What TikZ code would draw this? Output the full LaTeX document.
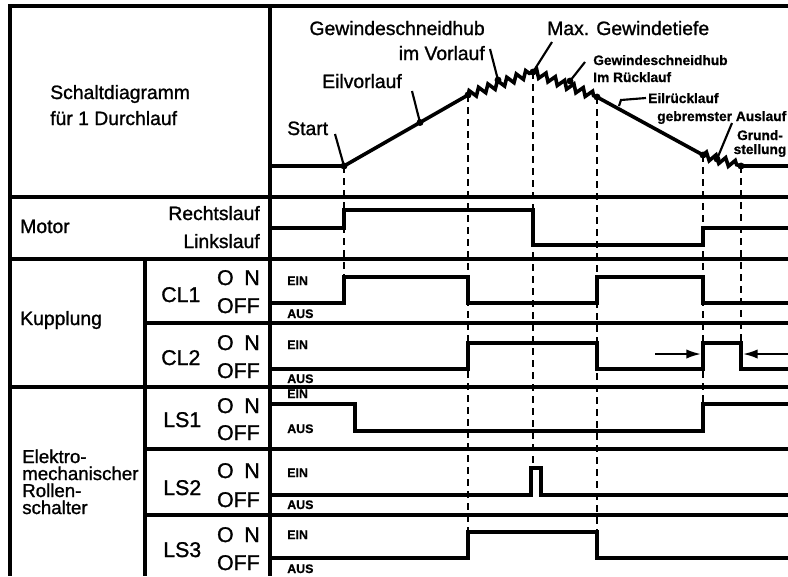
\documentclass[tikz,border=0pt]{standalone}
\usepackage{fontspec}
\setmainfont{Liberation Sans}[FakeBold=0.8]
\newfontfamily\inkfont{Liberation Sans}[FakeBold=1.2]
\usetikzlibrary{decorations.pathmorphing,arrows.meta}
\begin{document}
\begin{tikzpicture}[x=0.75pt,y=-0.75pt,
  frame/.style={line width=2.5pt},
  sig/.style={line width=2.7pt, line join=miter},
  guide/.style={line width=2pt, dash pattern=on 5.5pt off 3.5pt},
  ptr/.style={line width=1.6pt},
  wave/.style={sig, decorate, decoration={zigzag, segment length=7.5pt, amplitude=2.8pt}},
  lab/.style={font=\inkfont\fontsize{14.5}{17}\selectfont, inner sep=0pt},
  elab/.style={font=\inkfont\fontsize{14}{16}\selectfont, inner sep=0pt},
  slab/.style={font=\bfseries\fontsize{10.3}{12}\selectfont, inner sep=0pt},
  tinylab/.style={font=\bfseries\fontsize{9.3}{11}\selectfont, inner sep=0pt},
  swlab/.style={font=\inkfont\fontsize{16}{18}\selectfont, inner sep=0pt},
  dot/.style={circle, fill, inner sep=0pt, minimum size=5.2pt},
]
\useasboundingbox (0,0) rectangle (788,576);

% ---------- frame ----------
\draw[frame] (788,6) -- (10,6) -- (10,576);
\draw[frame] (270,6) -- (270,576);
\draw[frame] (10,197) -- (788,197);
\draw[frame] (10,259) -- (788,259);
\draw[frame] (145,259) -- (145,576);
\draw[frame] (145,323) -- (788,323);
\draw[frame] (10,387) -- (788,387);
\draw[frame] (145,449) -- (788,449);
\draw[frame] (145,515) -- (788,515);

% ---------- curve points ----------
\coordinate (S0) at (270,166);
\coordinate (A) at (344,166);
\coordinate (B) at (468,95);
\coordinate (C) at (533,72);
\coordinate (D) at (597,97);
\coordinate (E) at (703,155);
\coordinate (F) at (741,166);
\coordinate (G) at (788,166);
\coordinate (Pev) at (420,122.5);
\coordinate (Pgv) at (498,80);
\coordinate (Pgr) at (570,81);
\coordinate (Per) at (619,106);
\coordinate (Pga) at (717,159);

% ---------- dashed guides ----------
\draw[guide] (A) -- (344,303);
\draw[guide] (B) -- (468,558);
\draw[guide] (C) -- (533,468);
\draw[guide] (D) -- (597,558);
\draw[guide] (E) -- (703,431);
\draw[guide] (F) -- (741,369);

% ---------- travel curve ----------
\draw[sig] (S0) -- (A) -- (B);
\draw[wave] (B) -- (C);
\draw[wave] (C) -- (D);
\draw[sig] (D) -- (E);
\draw[wave] (E) -- (F);
\draw[sig] (F) -- (G);
\foreach \p in {A,B,C,D,E,F,Pev,Pgv,Pgr,Pga} \node[dot] at (\p) {};

% ---------- header labels ----------
\node[lab, anchor=base west] (sd1) at (50,99) {Schaltdiagramm};
\node[lab, anchor=base west] (sd2) at (50,125) {für 1 Durchlauf};

\node[lab, anchor=base east] (gv1) at (485,35) {Gewindeschneidhub};
\node[lab, anchor=base east] (gv2) at (485,60) {im Vorlauf};
\node[lab, anchor=base west] (ev) at (322,88) {Eilvorlauf};
\node[lab, anchor=base west] (st) at (287,135) {Start};
\node[lab, anchor=base west] (mx) at (547,35) {Max. Gewindetiefe};
\node[slab, anchor=base west] (gr1) at (593,65) {Gewindeschneidhub};
\node[slab, anchor=base west] (gr2) at (593,82) {Im Rücklauf};
\node[slab, anchor=base west] (er) at (648,103) {Eilrücklauf};
\node[slab, anchor=base west] (ga) at (657,121) {gebremster Auslauf};
\node[slab, anchor=base] (gs1) at (760,140) {Grund-};
\node[slab, anchor=base] (gs2) at (760,154) {stellung};

\coordinate (qst) at (335,134);
\coordinate (qev) at (412,91);
\coordinate (qgv) at (490,49);
\coordinate (qmx) at (552,42);
\coordinate (qgr) at (585,62);
\coordinate (qer) at (646,98);
\coordinate (qga) at (732,123);
\draw[ptr] (qst) -- (A);
\draw[ptr] (qev) -- (Pev);
\draw[ptr] (qgv) -- (Pgv);
\draw[ptr] (qmx) -- (C);
\draw[ptr] (qgr) -- (Pgr);
\draw[ptr] (qer) -- (621,100) -- (Per);
\draw[ptr] (qga) -- (Pga);

% ---------- left labels ----------
\node[lab, anchor=base west] (mot) at (20,233) {Motor};
\node[lab, anchor=base east] (re) at (260,220) {Rechtslauf};
\node[lab, anchor=base east] (li) at (260,248) {Linkslauf};
\node[lab, anchor=base west] (ku) at (20,325) {Kupplung};
\node[elab, anchor=base west] (el1) at (22,463) {Elektro-};
\node[elab, anchor=base west] (el2) at (22,480) {mechanischer};
\node[elab, anchor=base west] (el3) at (22,497) {Rollen-};
\node[elab, anchor=base west] (el4) at (22,514) {schalter};

\node[swlab, anchor=base west] (cl1) at (161,302) {CL1};
\node[swlab, anchor=base east] (cl1on) at (260,285) {O\kern8pt N};
\node[swlab, anchor=base east] (cl1off) at (260,313) {OFF};
\node[swlab, anchor=base west] (cl2) at (161,365) {CL2};
\node[swlab, anchor=base east] (cl2on) at (260,350) {O\kern8pt N};
\node[swlab, anchor=base east] (cl2off) at (260,378) {OFF};
\node[swlab, anchor=base west] (ls1) at (163,427) {LS1};
\node[swlab, anchor=base east] (ls1on) at (260,413) {O\kern8pt N};
\node[swlab, anchor=base east] (ls1off) at (260,440) {OFF};
\node[swlab, anchor=base west] (ls2) at (163,495) {LS2};
\node[swlab, anchor=base east] (ls2on) at (260,478) {O\kern8pt N};
\node[swlab, anchor=base east] (ls2off) at (260,507) {OFF};
\node[swlab, anchor=base west] (ls3) at (163,557) {LS3};
\node[swlab, anchor=base east] (ls3on) at (260,542) {O\kern8pt N};
\node[swlab, anchor=base east] (ls3off) at (260,570) {OFF};

\node[tinylab, anchor=base west] (e1) at (287,285) {EIN};
\node[tinylab, anchor=base west] (a1) at (287,318) {AUS};
\node[tinylab, anchor=base west] (e2) at (287,349) {EIN};
\node[tinylab, anchor=base west] (a2) at (287,383) {AUS};
\node[tinylab, anchor=base west] (e3) at (287,398) {EIN};
\node[tinylab, anchor=base west] (a3) at (287,433) {AUS};
\node[tinylab, anchor=base west] (e4) at (287,477) {EIN};
\node[tinylab, anchor=base west] (a4) at (287,509) {AUS};
\node[tinylab, anchor=base west] (e5) at (287,539) {EIN};
\node[tinylab, anchor=base west] (a5) at (287,573) {AUS};

% ---------- signals ----------
\draw[sig] (270,228) -- (344,228) -- (344,210) -- (533,210) -- (533,245) -- (703,245) -- (703,228) -- (788,228);
\draw[sig] (270,303) -- (344,303) -- (344,277) -- (468,277) -- (468,303) -- (597,303) -- (597,277) -- (703,277) -- (703,303) -- (788,303);
\draw[sig] (270,369) -- (468,369) -- (468,343) -- (597,343) -- (597,369) -- (703,369) -- (703,343) -- (741,343) -- (741,369) -- (788,369);
\draw[sig] (270,404) -- (355,404) -- (355,431) -- (703,431) -- (703,404) -- (788,404);
\draw[sig] (270,495) -- (531,495) -- (531,468) -- (541,468) -- (541,495) -- (788,495);
\draw[sig] (270,558) -- (468,558) -- (468,532) -- (597,532) -- (597,558) -- (788,558);

% ---------- CL2 timing arrows ----------
\coordinate (ta1) at (655,354);
\coordinate (tb1) at (701,354);
\coordinate (ta2) at (788,354);
\coordinate (tb2) at (743,354);
\draw[line width=1.5pt, -{Latex[length=11pt,width=7pt]}] (ta1) -- (tb1);
\draw[line width=1.5pt, -{Latex[length=11pt,width=7pt]}] (ta2) -- (tb2);
\end{tikzpicture}
\end{document}
